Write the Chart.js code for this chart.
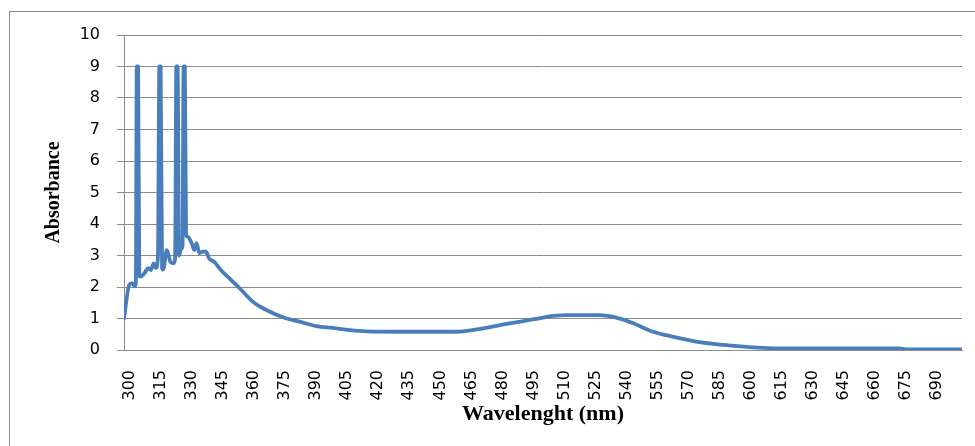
<!DOCTYPE html>
<html>
<head>
<meta charset="utf-8">
<script src="https://cdn.jsdelivr.net/npm/chart.js@4/dist/chart.umd.min.js"></script>
<style>
  html, body { margin: 0; padding: 0; background: #fff; overflow: hidden; }
  #frame {
    position: absolute; left: 9px; top: 11px; width: 1000px; height: 500px;
    border: 1px solid #8c8c8c; box-sizing: border-box;
  }
  #wrap { position: absolute; left: 0; top: 0; width: 975px; height: 446px; }
</style>
</head>
<body>
<div id="frame"></div>
<div id="wrap"><canvas id="spectrum"></canvas></div>
<script>
// wavelength (nm) and absorbance
const wavelength = [
  300, 302.5, 304, 305.2, 305.7, 306.2, 306.8, 307.4, 307.9, 309.8,
  311.7, 313, 314.3, 315.4, 316.4, 317.1, 317.7, 318.4, 318.9, 320.7,
  322.4, 323.9, 324.7, 325.3, 325.9, 326.6, 327.6, 328.3, 328.8, 329.4,
  330.0, 330.7, 332.7, 334, 335.1, 336.4, 338, 339.6, 341.2, 343.6,
  346.8, 349.7, 355.9, 362.3, 368.8, 376.8, 384.9, 393, 401, 409.1,
  417.2, 433.3, 460.7, 473.6, 484.9, 497.8, 507.5, 513.9, 530, 536.5,
  546.2, 554, 562, 570, 578, 590, 602, 611, 627, 675,
  678, 705,
];
const absorbance = [
  1.0, 2.06, 2.12, 2.02, 2.1, 9.0, 9.0, 2.35, 2.33, 2.43,
  2.6, 2.54, 2.75, 2.6, 2.95, 9.0, 9.0, 2.6, 2.55, 3.17,
  2.8, 2.75, 2.9, 9.0, 9.0, 3.0, 3.2, 3.3, 9.0, 9.0,
  3.65, 3.6, 3.39, 3.17, 3.39, 3.07, 3.12, 3.12, 2.9, 2.8,
  2.54, 2.35, 1.96, 1.53, 1.27, 1.04, 0.9, 0.76, 0.7, 0.63,
  0.59, 0.58, 0.58, 0.69, 0.83, 0.97, 1.08, 1.11, 1.11, 1.05,
  0.85, 0.62, 0.47, 0.35, 0.25, 0.16, 0.09, 0.06, 0.05, 0.05,
  0.02, 0.02,
];
const xTicks = [
  300, 315, 330, 345, 360, 375, 390, 405, 420, 435, 450, 465, 480, 495,
  510, 525, 540, 555, 570, 585, 600, 615, 630, 645, 660, 675, 690,
];
const yTicks = [0, 1, 2, 3, 4, 5, 6, 7, 8, 9, 10];

const points = wavelength.map((w, i) => ({ x: w, y: absorbance[i] }));
const gridGray = "#8c8c8c";

new Chart(document.getElementById("spectrum"), {
  type: "line",
  data: {
    datasets: [
      {
        label: "Absorbance",
        data: points,
        borderColor: "#4a7ebb",
        borderWidth: 3.8,
        pointRadius: 0,
        cubicInterpolationMode: "monotone",
        borderJoinStyle: "round",
        borderCapStyle: "round",
        fill: false,
      },
    ],
  },
  options: {
    responsive: true,
    maintainAspectRatio: false,
    animation: false,
    layout: { padding: { left: 0, top: 35, right: 13, bottom: 0 } },
    plugins: {
      legend: { display: false },
      tooltip: { enabled: false },
    },
    scales: {
      x: {
        type: "linear",
        min: 300,
        max: 705,
        afterBuildTicks: (scale) => {
          scale.ticks = xTicks.map((v) => ({ value: v }));
        },
        afterFit: (scale) => {
          scale.height = 96;
        },
        grid: { display: false },
        border: { display: true, color: gridGray, width: 1 },
        ticks: {
          autoSkip: false,
          minRotation: 90,
          maxRotation: 90,
          padding: 12,
          labelOffset: 6,
          color: "#000",
          font: { family: "DejaVu Sans", size: 16 },
        },
        title: {
          display: true,
          text: "Wavelenght (nm)",
          color: "#000",
          font: { family: "Liberation Serif", size: 22, weight: "bold" },
          padding: { top: 0, bottom: 18 },
        },
      },
      y: {
        min: 0,
        max: 10,
        afterBuildTicks: (scale) => {
          scale.ticks = yTicks.map((v) => ({ value: v }));
        },
        afterFit: (scale) => {
          scale.width = 124;
        },
        grid: { color: gridGray, lineWidth: 1, drawTicks: true, tickLength: 7 },
        border: { display: true, color: gridGray, width: 1 },
        ticks: {
          padding: 17,
          color: "#000",
          font: { family: "DejaVu Sans", size: 16 },
        },
        title: {
          display: true,
          text: "Absorbance",
          color: "#000",
          font: { family: "Liberation Serif", size: 20, weight: "bold" },
          padding: { top: 42, bottom: 0 },
        },
      },
    },
  },
});
</script>
</body>
</html>
